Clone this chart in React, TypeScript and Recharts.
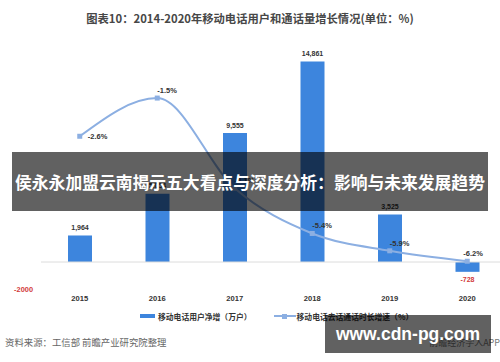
import React from "react";
import { ComposedChart, Bar, Line, XAxis, YAxis, ReferenceLine, LabelList } from "recharts";

const years = ["2015", "2016", "2017", "2018", "2019", "2020"];
const userNetAdds = [1964, 5054, 9555, 14861, 3525, -728];
const callGrowth = [-2.6, -1.5, -4.1, -5.4, -5.9, -6.2];
const leftTicks = [-2000];

const data = years.map((y, i) => ({ year: y, users: userNetAdds[i], growth: callGrowth[i] }));

const LATIN = '"Liberation Sans", "Noto Sans CJK SC", sans-serif';
const CJK = '"Noto Sans CJK SC", "Liberation Sans", sans-serif';
const BAR_COLOR = "#3d85dd";
const LINE_COLOR = "#8cafe2";

const BarLabel = (props: any) => {
  const { x, y, width, height, value } = props;
  const cx = x + width / 2;
  const top = Math.min(y, y + height);
  const bottom = Math.max(y, y + height);
  const neg = value < 0;
  return (
    <text
      x={cx}
      y={neg ? bottom + 8 : top - 8}
      textAnchor="middle"
      dominantBaseline="central"
      fontSize={7}
      fontWeight="bold"
      fontFamily={LATIN}
      fill={neg ? "#d23a3a" : "#333"}
    >
      {Number(value).toLocaleString("en-US")}
    </text>
  );
};

const LineLabel = (props: any) => {
  const { x, y, value, index } = props;
  let tx = x;
  let ty = y - 7.5;
  if (index === 0) {
    tx = x + 8;
    ty = y;
  } else if (index === years.length - 1) {
    tx = x - 4;
  }
  return (
    <text
      x={tx}
      y={ty}
      textAnchor="start"
      dominantBaseline="central"
      fontSize={7.5}
      fontWeight="bold"
      fontFamily={LATIN}
      fill="#333"
    >
      {`${value}%`}
    </text>
  );
};

const SquareDot = (props: any) => {
  const { cx, cy } = props;
  if (cx == null || cy == null) return null;
  return <rect x={cx - 2.5} y={cy - 2.5} width={5} height={5} fill={LINE_COLOR} />;
};

export default function App() {
  return (
    <div style={{ position: "absolute", left: 0, top: 0, width: 500, height: 362, overflow: "hidden", background: "#fff" }}>
      <div
        style={{
          position: "absolute",
          left: 0,
          top: 11,
          width: 500,
          textAlign: "center",
          fontFamily: CJK,
          fontWeight: "bold",
          fontSize: 11.3,
          color: "#474747",
          lineHeight: "15px",
        }}
      >
        图表10：2014-2020年移动电话用户和通话量增长情况(单位：%)
      </div>
      <div style={{ position: "absolute", left: 0, top: 0 }}>
        <ComposedChart width={510} height={362} data={data} margin={{ top: 46, right: 4, left: 0, bottom: 43 }}>
          <XAxis
            dataKey="year"
            axisLine={false}
            tickLine={false}
            height={30}
            tickMargin={1}
            tick={{ fontSize: 7.6, fontWeight: "bold", fill: "#333", fontFamily: LATIN }}
          />
          <YAxis
            yAxisId="left"
            width={41}
            domain={[-2000, 16000]}
            ticks={leftTicks}
            axisLine={false}
            tickLine={false}
            tick={{ fontSize: 7.4, fontWeight: "bold", fill: "#d23a3a", fontFamily: LATIN }}
          />
          <YAxis yAxisId="right" orientation="right" hide domain={[-7, 0]} />
          <ReferenceLine yAxisId="left" y={0} stroke="#dcdcdc" strokeWidth={1} />
          <Bar yAxisId="left" dataKey="users" fill={BAR_COLOR} barSize={24} isAnimationActive={false}>
            <LabelList dataKey="users" content={BarLabel} />
          </Bar>
          <Line
            yAxisId="right"
            type="monotone"
            dataKey="growth"
            stroke={LINE_COLOR}
            strokeWidth={2}
            dot={SquareDot}
            activeDot={false}
            isAnimationActive={false}
          >
            <LabelList dataKey="growth" content={LineLabel} />
          </Line>
        </ComposedChart>
      </div>
      {/* legend */}
      <div
        style={{
          position: "absolute",
          left: 140,
          top: 309,
          height: 14,
          display: "flex",
          alignItems: "center",
          fontFamily: CJK,
          fontWeight: "bold",
          fontSize: 7.8,
          color: "#333",
          whiteSpace: "nowrap",
        }}
      >
        <span style={{ display: "inline-block", width: 15, height: 4, background: BAR_COLOR, marginRight: 3 }} />
        <span>移动电话用户净增（万户）</span>
        <span style={{ display: "inline-block", width: 22, marginLeft: 22, marginRight: 1, position: "relative", height: 6 }}>
          <span style={{ position: "absolute", left: 0, top: 2, width: 22, height: 1.5, background: LINE_COLOR }} />
          <span style={{ position: "absolute", left: 8.5, top: 0.5, width: 5, height: 5, background: LINE_COLOR }} />
        </span>
        <span>移动电话去话通话时长增速（%）</span>
      </div>
      {/* source */}
      <div
        style={{
          position: "absolute",
          left: 5,
          top: 335,
          fontFamily: CJK,
          fontSize: 9.4,
          color: "#666",
          lineHeight: "14px",
          whiteSpace: "nowrap",
        }}
      >
        资料来源：工信部 前瞻产业研究院整理
      </div>
      <div
        style={{
          position: "absolute",
          right: 0,
          top: 336,
          fontFamily: CJK,
          fontSize: 9,
          color: "#777",
          lineHeight: "14px",
          whiteSpace: "nowrap",
        }}
      >
        前瞻经济学人APP
      </div>
      {/* overlay banner */}
      <div
        style={{
          position: "absolute",
          left: 12,
          top: 152,
          width: 476,
          height: 59,
          background: "rgba(0,0,0,0.62)",
          display: "flex",
          alignItems: "center",
          justifyContent: "center",
          color: "#fff",
          fontFamily: CJK,
          fontWeight: "bold",
          fontSize: 16.8,
          whiteSpace: "nowrap",
        }}
      >
        侯永永加盟云南揭示五大看点与深度分析：影响与未来发展趋势
      </div>
      <div
        style={{
          position: "absolute",
          left: 325,
          top: 315,
          width: 166,
          height: 38,
          background: "rgba(0,0,0,0.62)",
          display: "flex",
          alignItems: "center",
          justifyContent: "center",
          color: "#fff",
          fontFamily: LATIN,
          fontWeight: "bold",
          fontSize: 17.5,
          whiteSpace: "nowrap",
        }}
      >
        www.cdn-pg.com
      </div>
    </div>
  );
}
